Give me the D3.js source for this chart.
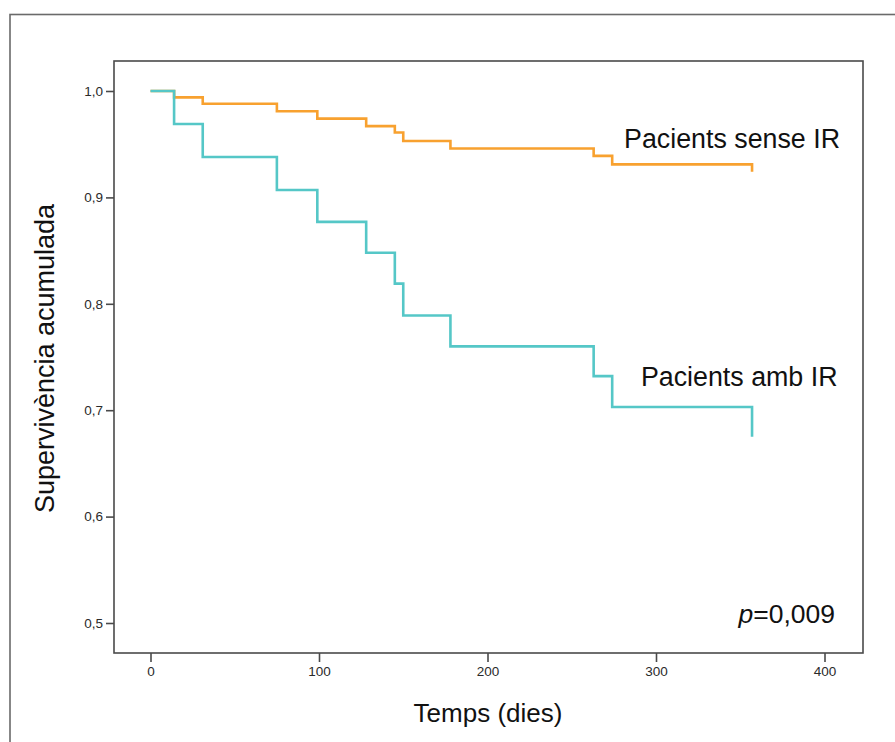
<!DOCTYPE html>
<html>
<head>
<meta charset="utf-8">
<script src="https://cdn.jsdelivr.net/npm/d3@7"></script>
<style>
  html, body { margin: 0; padding: 0; background: #fff; }
  svg { display: block; font-family: "Liberation Sans", Arial, sans-serif; }
</style>
</head>
<body>
<svg id="chart" width="895" height="742"></svg>
<script>
// ---- data ----
const times = [0, 14, 31, 75, 99, 128, 145, 150, 178, 263, 274, 357];
const senseIR = [1.0, 0.994, 0.988, 0.981, 0.974, 0.967, 0.961, 0.953, 0.946, 0.939, 0.931, 0.924];
const ambIR   = [1.0, 0.969, 0.938, 0.907, 0.877, 0.848, 0.819, 0.789, 0.760, 0.732, 0.703, 0.675];
const xTicks = [0, 100, 200, 300, 400];
const yTicks = [0.5, 0.6, 0.7, 0.8, 0.9, 1.0];
const seriesNames = ["Pacients sense IR", "Pacients amb IR"];
const pValue = "0,009";
const xTitle = "Temps (dies)";
const yTitle = "Supervivència acumulada";

// ---- layout ----
const svg = d3.select("#chart");
const frame = { left: 114, top: 61, right: 863, bottom: 653 };

const x = d3.scaleLinear().domain([0, 400]).range([150.5, 824.5]);
const y = d3.scaleLinear().domain([0.5, 1.0]).range([623, 91]);

// outer frame (cut off by the window on right/bottom)
svg.append("rect")
  .attr("x", 10).attr("y", 14.5)
  .attr("width", 900).attr("height", 800)
  .attr("fill", "none").attr("stroke", "#6a6a6a").attr("stroke-width", 1.6);

// inner plot frame
svg.append("rect")
  .attr("x", frame.left).attr("y", frame.top)
  .attr("width", frame.right - frame.left).attr("height", frame.bottom - frame.top)
  .attr("fill", "none").attr("stroke", "#4a4a4a").attr("stroke-width", 1.6);

const fmt = d => d.toFixed(1).replace(".", ",");

// y axis
const yAxis = svg.append("g")
  .attr("transform", `translate(${frame.left},0)`)
  .call(d3.axisLeft(y).tickValues(yTicks).tickFormat(fmt).tickSize(8).tickPadding(3));
yAxis.select(".domain").remove();

// x axis
const xAxis = svg.append("g")
  .attr("transform", `translate(0,${frame.bottom})`)
  .call(d3.axisBottom(x).tickValues(xTicks).tickFormat(d3.format("d")).tickSize(9).tickPadding(4));
xAxis.select(".domain").remove();

svg.selectAll(".tick line").attr("stroke", "#4a4a4a").attr("stroke-width", 1.6);
svg.selectAll(".tick text")
  .attr("fill", "#2a2a2a")
  .style("font-family", "'Liberation Sans', Arial, sans-serif")
  .style("font-size", "13.5px");

// survival step curves
const line = d3.line()
  .x(d => x(d[0]))
  .y(d => y(d[1]))
  .curve(d3.curveStepAfter);

const series = [
  { name: seriesNames[0], values: senseIR, color: "#F8A12F" },
  { name: seriesNames[1], values: ambIR, color: "#55C7C7" }
];

series.forEach(s => {
  svg.append("path")
    .datum(times.map((t, i) => [t, s.values[i]]))
    .attr("d", line)
    .attr("fill", "none")
    .attr("stroke", s.color)
    .attr("stroke-width", 2.6)
    .attr("stroke-linejoin", "miter")
    .attr("stroke-linecap", "butt");
});

// labels
svg.append("text")
  .attr("x", 840).attr("y", 147.5)
  .attr("text-anchor", "end")
  .attr("fill", "#111").style("font-size", "26.8px")
  .text(seriesNames[0]);

svg.append("text")
  .attr("x", 837.5).attr("y", 386)
  .attr("text-anchor", "end")
  .attr("fill", "#111").style("font-size", "26.8px")
  .text(seriesNames[1]);

const pt = svg.append("text")
  .attr("x", 835).attr("y", 623)
  .attr("text-anchor", "end")
  .attr("fill", "#111").style("font-size", "26.5px");
pt.append("tspan").style("font-style", "italic").text("p");
pt.append("tspan").text("=" + pValue);

// axis titles
svg.append("text")
  .attr("x", 488).attr("y", 721.5)
  .attr("text-anchor", "middle")
  .attr("fill", "#111").style("font-size", "26px")
  .text(xTitle);

svg.append("text")
  .attr("transform", "translate(53.5,358.5) rotate(-90)")
  .attr("text-anchor", "middle")
  .attr("fill", "#111").style("font-size", "27px")
  .text(yTitle);
</script>
</body>
</html>
